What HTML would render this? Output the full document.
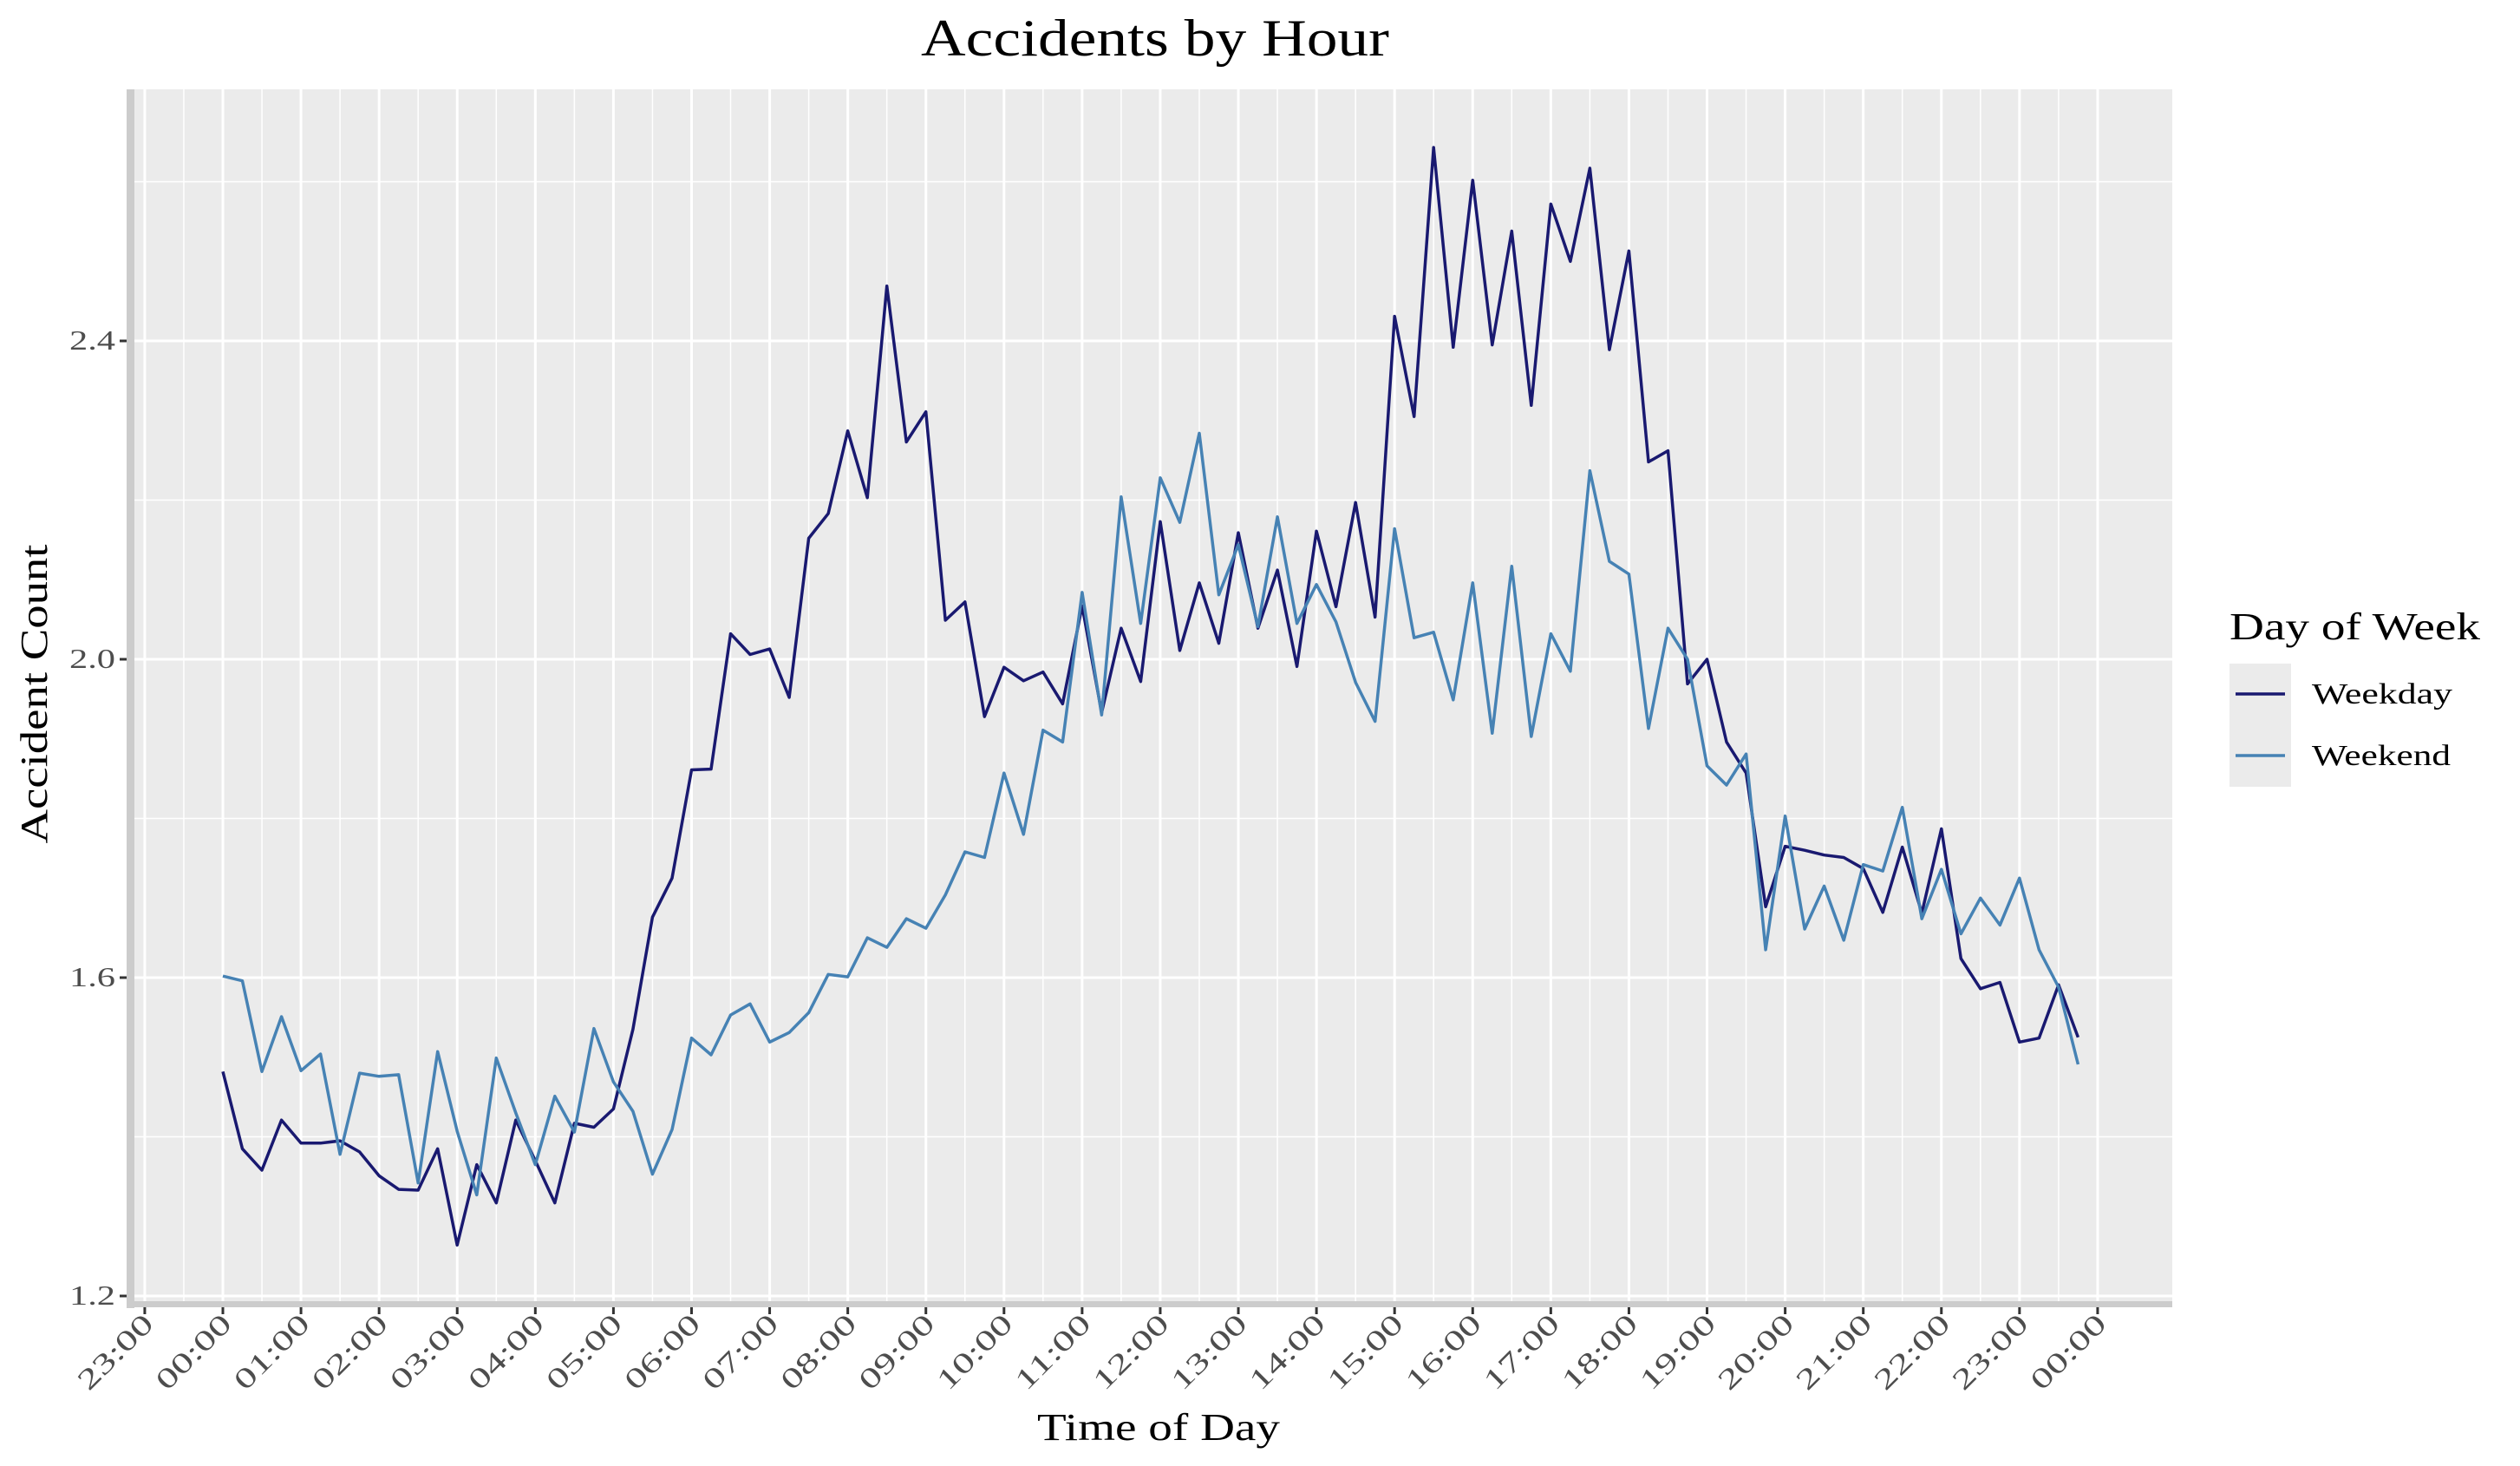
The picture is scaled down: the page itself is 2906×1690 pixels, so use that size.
<!DOCTYPE html>
<html><head><meta charset="utf-8"><style>
body{margin:0;background:#fff;}
svg{display:block;font-family:"Liberation Serif",serif;}
</style></head><body>
<svg id="chart" width="2906" height="1690" viewBox="0 0 2906 1690" xmlns="http://www.w3.org/2000/svg">
<text x="1332" y="64" font-size="60" text-anchor="middle" fill="#000" textLength="540" lengthAdjust="spacingAndGlyphs">Accidents by Hour</text>
<g id="grid"></g>
<g id="series"></g>
<g id="axes"></g>
<text transform="translate(54,800) rotate(-90)" font-size="44" text-anchor="middle" fill="#000" textLength="345" lengthAdjust="spacingAndGlyphs">Accident Count</text>
<text x="1336" y="1660" font-size="44" text-anchor="middle" fill="#000" textLength="280" lengthAdjust="spacingAndGlyphs">Time of Day</text>
<g>
<text x="2571" y="737" font-size="44" fill="#000" textLength="289" lengthAdjust="spacingAndGlyphs">Day of Week</text>
<rect x="2571" y="765" width="71" height="71" fill="#ebebeb"/>
<rect x="2571" y="836" width="71" height="71" fill="#ebebeb"/>
<line x1="2578" x2="2635" y1="800" y2="800" stroke="#191970" stroke-width="3.5"/>
<line x1="2578" x2="2635" y1="871" y2="871" stroke="#4682b4" stroke-width="3.5"/>
<text x="2666" y="811" font-size="34" fill="#000" textLength="162" lengthAdjust="spacingAndGlyphs">Weekday</text>
<text x="2666" y="882" font-size="34" fill="#000" textLength="160" lengthAdjust="spacingAndGlyphs">Weekend</text>
</g>
</svg>
<script>
const weekday=[1.482,1.385,1.358,1.421,1.392,1.392,1.395,1.381,1.351,1.334,1.333,1.385,1.264,1.365,1.317,1.421,1.370,1.317,1.417,1.412,1.435,1.535,1.676,1.725,1.861,1.862,2.032,2.006,2.013,1.952,2.152,2.183,2.287,2.203,2.469,2.273,2.311,2.049,2.072,1.928,1.990,1.973,1.984,1.944,2.067,1.933,2.039,1.972,2.173,2.011,2.096,2.020,2.159,2.039,2.112,1.991,2.161,2.066,2.197,2.053,2.431,2.305,2.643,2.392,2.602,2.395,2.538,2.319,2.572,2.500,2.617,2.389,2.513,2.248,2.262,1.969,2.0,1.896,1.857,1.689,1.765,1.760,1.754,1.751,1.737,1.682,1.764,1.681,1.787,1.624,1.586,1.594,1.519,1.524,1.591,1.525];
const weekend=[1.602,1.596,1.482,1.551,1.483,1.504,1.378,1.480,1.476,1.478,1.342,1.507,1.407,1.327,1.499,1.430,1.365,1.451,1.406,1.536,1.469,1.432,1.353,1.409,1.524,1.503,1.553,1.567,1.519,1.531,1.556,1.604,1.601,1.650,1.638,1.674,1.662,1.704,1.758,1.751,1.857,1.780,1.911,1.896,2.084,1.930,2.204,2.045,2.228,2.172,2.284,2.081,2.144,2.041,2.179,2.045,2.094,2.047,1.971,1.922,2.164,2.027,2.034,1.949,2.096,1.907,2.117,1.903,2.032,1.985,2.237,2.123,2.107,1.913,2.039,2.0,1.866,1.842,1.881,1.635,1.803,1.661,1.715,1.647,1.742,1.734,1.814,1.674,1.736,1.655,1.700,1.666,1.725,1.635,1.588,1.491];
const yTicks=[1.2,1.6,2.0,2.4];
const yMinor=[1.4,1.8,2.2,2.6];
const xTickLabels=["23:00","00:00","01:00","02:00","03:00","04:00","05:00","06:00","07:00","08:00","09:00","10:00","11:00","12:00","13:00","14:00","15:00","16:00","17:00","18:00","19:00","20:00","21:00","22:00","23:00","00:00"];
const xTickHours=[-1,0,1,2,3,4,5,6,7,8,9,10,11,12,13,14,15,16,17,18,19,20,21,22,23,24];

const PL=155,PR=2505,PT=103,PB=1500;
const x=h=>257+90.08*h;
const y=v=>760-(v-2.0)*917.5;
const NS="http://www.w3.org/2000/svg";
function mk(tag,attrs,parent){const e=document.createElementNS(NS,tag);for(const k in attrs)e.setAttribute(k,attrs[k]);parent.appendChild(e);return e;}
const grid=document.getElementById('grid'),axes=document.getElementById('axes'),series=document.getElementById('series');
const bg=mk('rect',{x:PL,y:PT,width:PR-PL,height:PB-PT,fill:'#ebebeb'},grid);


for(const v of yMinor){const l=mk('line',{x1:PL,x2:PR,y1:y(v),y2:y(v),stroke:'#fff','stroke-width':1.5},grid);

}
for(const h of xTickHours){if(h<24){const l=mk('line',{x1:x(h+0.5),x2:x(h+0.5),y1:PT,y2:PB,stroke:'#fff','stroke-width':1.5},grid);

}}
for(const v of yTicks){const l=mk('line',{x1:PL,x2:PR,y1:y(v),y2:y(v),stroke:'#fff','stroke-width':3},grid);

}
for(const h of xTickHours){const l=mk('line',{x1:x(h),x2:x(h),y1:PT,y2:PB,stroke:'#fff','stroke-width':3},grid);

}
function drawSeries(vals,color,name){const pts=vals.map((v,i)=>x(i*0.25).toFixed(1)+','+y(v).toFixed(1)).join(' ');
const p=mk('polyline',{points:pts,fill:'none',stroke:color,'stroke-width':3.5,'stroke-linejoin':'round'},series);

}
drawSeries(weekday,'#191970','weekday-line');
drawSeries(weekend,'#4682b4','weekend-line');
const al=mk('rect',{x:PL-9,y:PT,width:9,height:PB-PT+8,fill:'#cccccc'},axes);


const bl=mk('rect',{x:PL-9,y:PB,width:PR-PL+9,height:7,fill:'#cccccc'},axes);


for(const v of yTicks){const t=mk('line',{x1:PL-17,x2:PL-9,y1:y(v),y2:y(v),stroke:'#333','stroke-width':3},axes);


const tx=mk('text',{x:PL-22,y:y(v)+10,'font-size':32,'text-anchor':'end',fill:'#4d4d4d',textLength:53,lengthAdjust:'spacingAndGlyphs'},axes);
tx.textContent=v.toFixed(1);

}
xTickHours.forEach((h,i)=>{const t=mk('line',{x1:x(h),x2:x(h),y1:PB+7,y2:PB+15,stroke:'#333','stroke-width':3},axes);


const tx=mk('text',{transform:`translate(${x(h)+12},${PB+28}) rotate(-45)`,'font-size':33,'text-anchor':'end',fill:'#4d4d4d',textLength:108,lengthAdjust:'spacingAndGlyphs'},axes);
tx.textContent=xTickLabels[i];

});
</script>
</body></html>
